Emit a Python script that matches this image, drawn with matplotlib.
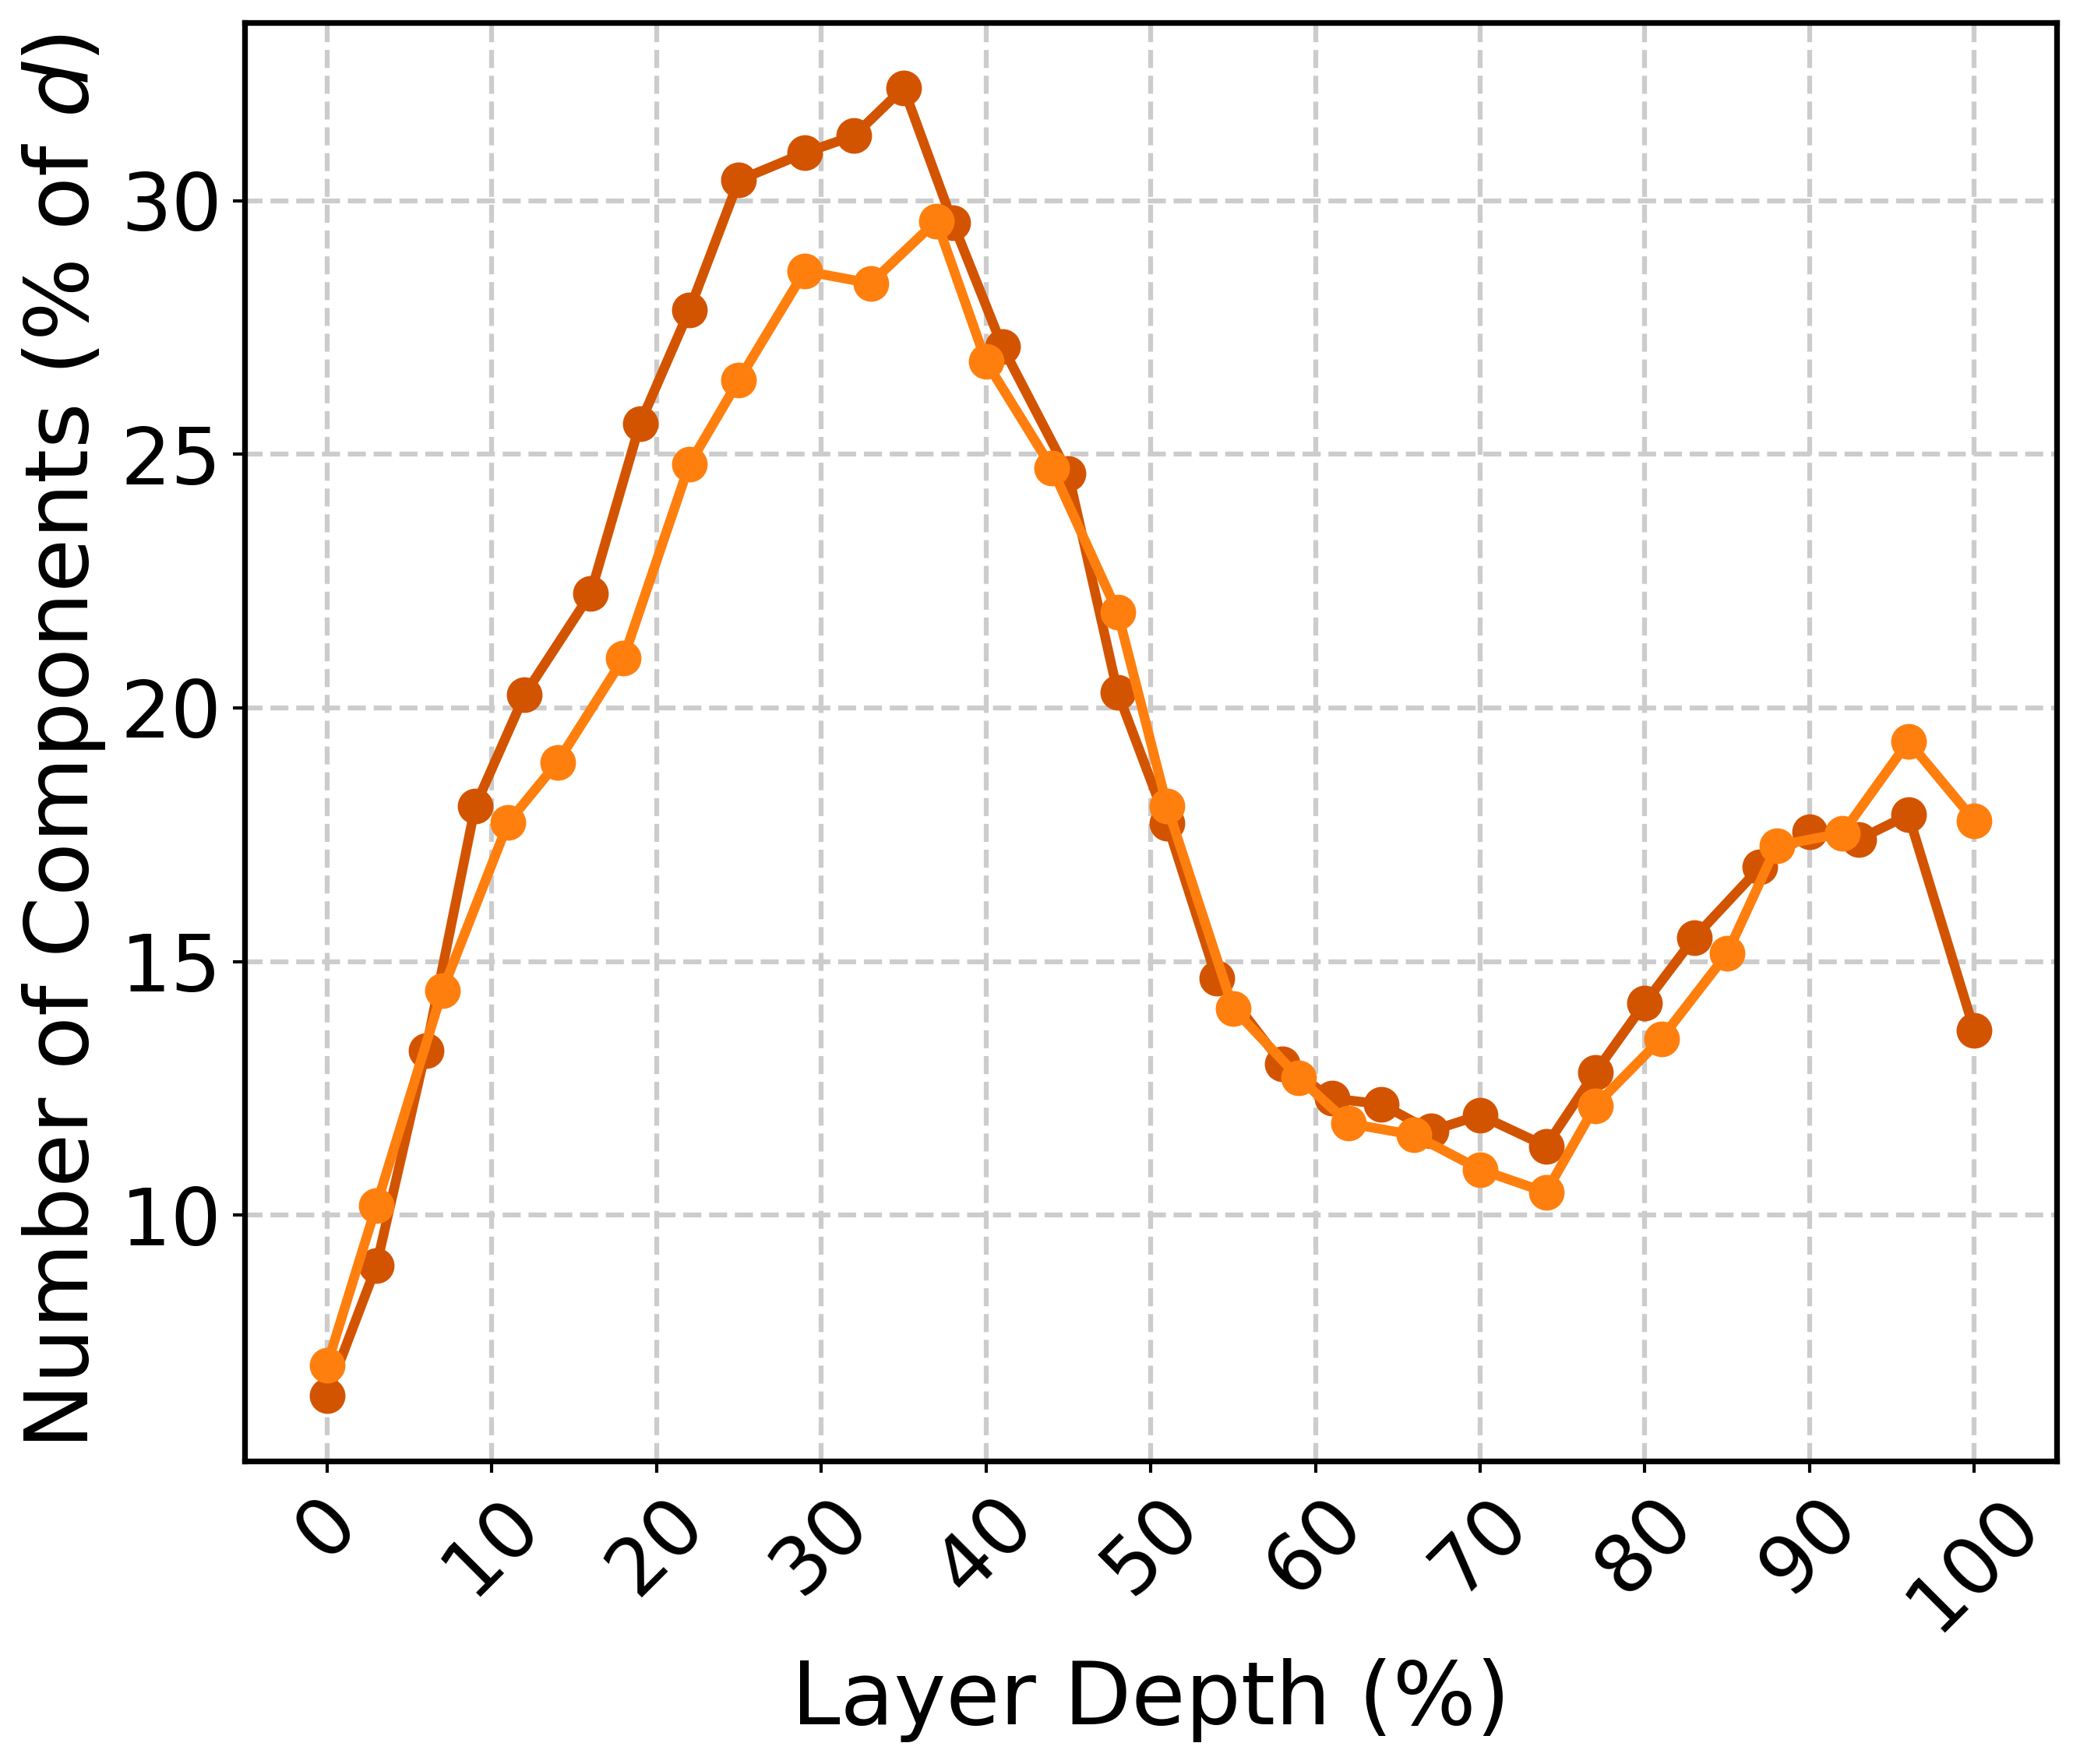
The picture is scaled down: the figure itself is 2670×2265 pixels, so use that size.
import matplotlib
matplotlib.use("Agg")
import matplotlib.pyplot as plt

# Series A (darker orange), 32 layers
x_dark = [0, 3, 6, 9, 12, 16, 19, 22, 25, 29, 32, 35, 38, 41, 45, 48,
          51, 54, 58, 61, 64, 67, 70, 74, 77, 80, 83, 87, 90, 93, 96, 100]
y_dark = [6.44, 9.00, 13.25, 18.06, 20.26, 22.25, 25.60, 27.84, 30.40, 30.94,
          31.28, 32.22, 29.56, 27.12, 24.62, 20.30, 17.72, 14.67, 12.98, 12.30,
          12.19, 11.66, 11.97, 11.36, 12.82, 14.18, 15.47, 16.86, 17.55, 17.41,
          17.89, 13.64]

# Series B (lighter orange), 28 layers
x_light = [0, 3, 7, 11, 14, 18, 22, 25, 29, 33, 37, 40, 44, 48,
           51, 55, 59, 62, 66, 70, 74, 77, 81, 85, 88, 92, 96, 100]
y_light = [7.04, 10.19, 14.42, 17.74, 18.93, 20.98, 24.80, 26.46, 28.61, 28.37,
           29.60, 26.83, 24.73, 21.88, 18.06, 14.08, 12.71, 11.81, 11.58, 10.90,
           10.45, 12.16, 13.48, 15.16, 17.28, 17.53, 19.34, 17.78]

xticks = list(range(0, 101, 10))

fig = plt.figure(figsize=(8.9, 7.55), dpi=300)
ax = fig.add_axes([0.1176, 0.1717, 0.9888 - 0.1176, 0.9872 - 0.1717])

ax.plot(x_dark, y_dark, '-o', color='#d35400', linewidth=3, markersize=10, zorder=3)
ax.plot(x_light, y_light, '-o', color='#ff7f0e', linewidth=3, markersize=10, zorder=4)

ax.grid(True, linestyle='--', color='#cccccc', linewidth=1.5)
ax.set_axisbelow(True)

ax.set_xticks(xticks)
ax.set_xticklabels([str(t) for t in xticks], rotation=45, ha='center')
ax.tick_params(axis='both', labelsize=24.5, length=3.5, width=1.0)

for s in ax.spines.values():
    s.set_linewidth(1.75)

ax.set_xlabel('Layer Depth (%)', fontsize=27)
ax.set_ylabel('Number of Components (% of $d$)', fontsize=27, labelpad=4)

fig.savefig('out.png', dpi=300)
